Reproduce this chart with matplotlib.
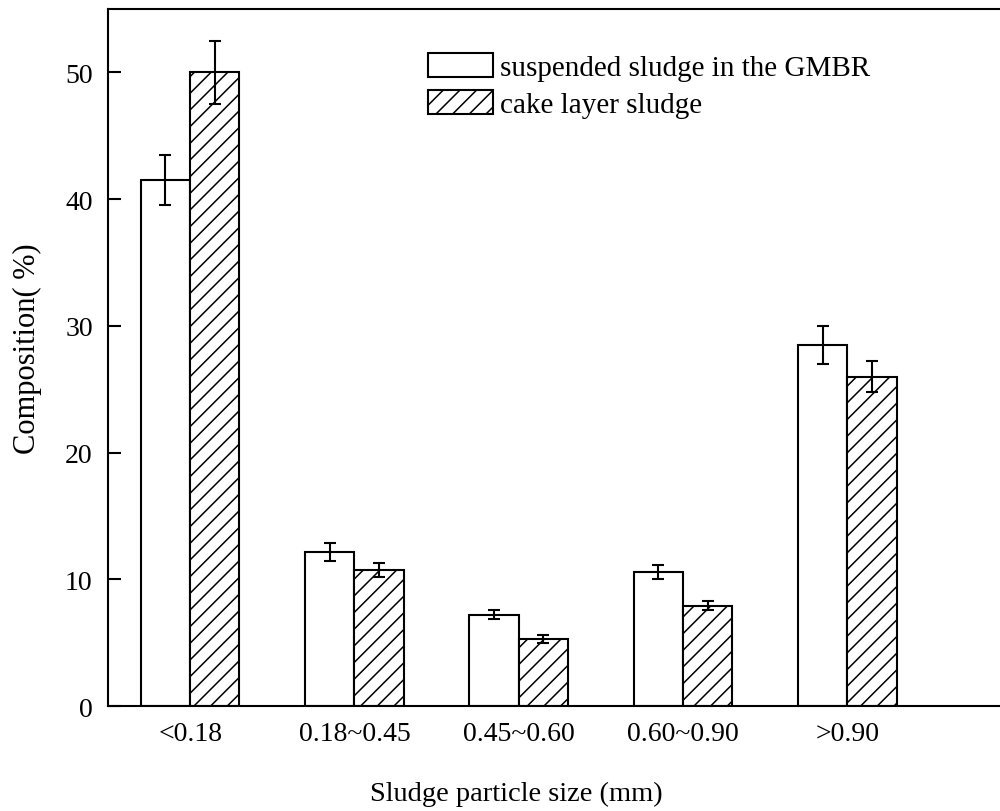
import matplotlib
matplotlib.use('Agg')
import matplotlib.pyplot as plt
import numpy as np

# particle size classes (mm)
categories = ['<0.18', '0.18~0.45', '0.45~0.60', '0.60~0.90', '>0.90']

# composition (%) of each size class
suspended = [41.5, 12.15, 7.2, 10.55, 28.5]
suspended_err = [2.0, 0.7, 0.35, 0.55, 1.5]
cake = [50.0, 10.7, 5.3, 7.9, 26.0]
cake_err = [2.5, 0.55, 0.3, 0.35, 1.25]

series_labels = ['suspended sludge in the GMBR', 'cake layer sludge']

plt.rcParams['font.family'] = ['Liberation Serif', 'DejaVu Serif']
plt.rcParams['hatch.linewidth'] = 1.1

fig = plt.figure(figsize=(10, 8.12), dpi=100)
ax = fig.add_axes([0.108, 0.1293, 0.892, 0.8584])

x = np.arange(len(categories))
w = 0.3
err_kw = dict(ecolor='black', elinewidth=1.5, capsize=4.5, capthick=1.5)

ax.bar(x - w/2, suspended, w, yerr=suspended_err, color='white',
       edgecolor='black', linewidth=1.5, label=series_labels[0], error_kw=err_kw)
ax.bar(x + w/2, cake, w, yerr=cake_err, color='white', hatch='//',
       edgecolor='black', linewidth=1.5, label=series_labels[1], error_kw=err_kw)

ax.set_xlim(-0.5, 4.93)
ax.set_ylim(0, 55)
ax.set_xticks(x)
ax.set_xticklabels(categories)
ax.set_yticks([0, 10, 20, 30, 40, 50])

ax.tick_params(axis='y', direction='in', length=9, width=1.5, pad=11, labelsize=20)
ax.tick_params(axis='x', length=0, pad=11, labelsize=20)

for s in ['left', 'top', 'bottom']:
    ax.spines[s].set_linewidth(1.5)
ax.spines['right'].set_visible(False)

fig.text(0.516, 0.022, 'Sludge particle size (mm)', ha='center', va='center', fontsize=20.5)
fig.text(0.027, 0.571, 'Composition( %)', ha='center', va='center', rotation=90, fontsize=22)

ax.legend(loc='upper left', bbox_to_anchor=(0.428, 1 - 54/812), bbox_transform=fig.transFigure,
          frameon=False, fontsize=21, handlelength=2.23, handleheight=0.89,
          handletextpad=0.25, labelspacing=0.3, borderpad=0, borderaxespad=0)

fig.savefig('out.png', dpi=100)
